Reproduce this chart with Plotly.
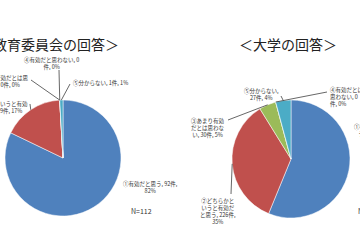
import math
import plotly.graph_objects as go

W, H = 360, 240

# ---- data ----
categories = ["①有効だと思う", "②どちらかというと有効だと思う", "③あまり有効だとは思わない",
              "④有効だとは思わない", "⑤分からない"]
board_counts = [92, 19, 0, 0, 1]        # 教育委員会 N=112
univ_counts = [363, 226, 30, 0, 27]     # 大学 N=646
colors = ["#4F81BD", "#C0504D", "#9BBB59", "#8064A2", "#4BACC6"]

board_title = "＜教育委員会の回答＞"
univ_title = "＜大学の回答＞"
board_labels = [
    "①有効だと思う, 92件,<br>82%",
    "②どちらかというと有効<br>だと思う, 19件, 17%",
    "③あまり有効だとは思<br>わない, 0件, 0%",
    "④有効だと思わない, 0<br>件, 0%",
    "⑤分からない, 1件, 1%",
]
univ_labels = [
    "①有効だと思<br>う, 363件,<br>56%",
    "②どちらかと<br>いうと有効だ<br>と思う, 226件,<br>35%",
    "③あまり有効<br>だとは思わな<br>い, 30件, 5%",
    "④有効だとは<br>思わない, 0<br>件, 0%",
    "⑤分からない,<br>27件, 4%",
]
board_n = "N=112"
univ_n = "N=646"

# ---- layout geometry (pixels) ----
pies = {
    "board": dict(cx=63, cy=158, r=58),
    "univ": dict(cx=291, cy=159, r=59),
}
# label placement: (x, y, xanchor, align, leader-start or None)
board_pos = [
    (121, 187, "left", "center", None),
    (30, 107, "right", "center", (30, 104)),
    (31, 81, "right", "center", (31, 80)),
    (51, 64, "center", "center", (59, 70)),
    (71, 83, "left", "left", (70, 84)),
]
univ_pos = [
    (352, 134, "left", "center", None),
    (218, 211, "center", "center", (231, 194)),
    (208, 128, "center", "center", (228, 120)),
    (328, 97, "left", "left", (327, 92)),
    (261, 95, "center", "center", (281, 96)),
]

def px(x):
    return x / W

def py(y):
    return 1 - y / H

def tips(counts, geo):
    total = sum(counts)
    out, cum = [], 0.0
    for c in counts:
        mid = (cum + c / 2) / total
        cum += c
        th = 2 * math.pi * mid
        out.append((geo["cx"] + geo["r"] * math.sin(th), geo["cy"] - geo["r"] * math.cos(th)))
    return out

fig = go.Figure()
for key, counts in (("board", board_counts), ("univ", univ_counts)):
    g = pies[key]
    fig.add_trace(go.Pie(
        labels=categories, values=counts, sort=False, direction="clockwise", rotation=0,
        marker=dict(colors=colors, line=dict(color="white", width=0.5)),
        textinfo="none", hoverinfo="label+value+percent", showlegend=False,
        domain=dict(x=[px(g["cx"] - g["r"]), px(g["cx"] + g["r"])],
                    y=[py(g["cy"] + g["r"]), py(g["cy"] - g["r"])]),
    ))

annotations, shapes = [], []
font_lbl = dict(family="Noto Sans CJK JP", size=5.5, color="#333333")
for labels, pos, counts, key in ((board_labels, board_pos, board_counts, "board"),
                                 (univ_labels, univ_pos, univ_counts, "univ")):
    tp = tips(counts, pies[key])
    for lab, (x, y, xa, al, lead), t in zip(labels, pos, tp):
        annotations.append(dict(text=lab, x=px(x), y=py(y), xref="paper", yref="paper",
                                xanchor=xa, yanchor="middle", align=al, showarrow=False,
                                font=font_lbl))
        if lead:
            shapes.append(dict(type="line", xref="paper", yref="paper",
                               x0=px(lead[0]), y0=py(lead[1]), x1=px(t[0]), y1=py(t[1]),
                               line=dict(color="#404040", width=0.8)))

font_title = dict(family="Noto Sans CJK JP", size=14, color="#222222")
annotations.append(dict(text=board_title, x=px(121), y=py(44), xref="paper", yref="paper",
                        xanchor="right", yanchor="middle", showarrow=False, font=font_title))
annotations.append(dict(text=univ_title, x=px(288), y=py(44), xref="paper", yref="paper",
                        xanchor="center", yanchor="middle", showarrow=False, font=font_title))
font_n = dict(family="Noto Sans CJK JP", size=7, color="#333333")
annotations.append(dict(text=board_n, x=px(141), y=py(211), xref="paper", yref="paper",
                        xanchor="center", yanchor="middle", showarrow=False, font=font_n))
annotations.append(dict(text=univ_n, x=px(356), y=py(211), xref="paper", yref="paper",
                        xanchor="left", yanchor="middle", showarrow=False, font=font_n))

fig.update_layout(width=W, height=H, margin=dict(l=0, r=0, t=0, b=0),
                  paper_bgcolor="white", plot_bgcolor="white",
                  annotations=annotations, shapes=shapes)
fig.write_html("out.html")
